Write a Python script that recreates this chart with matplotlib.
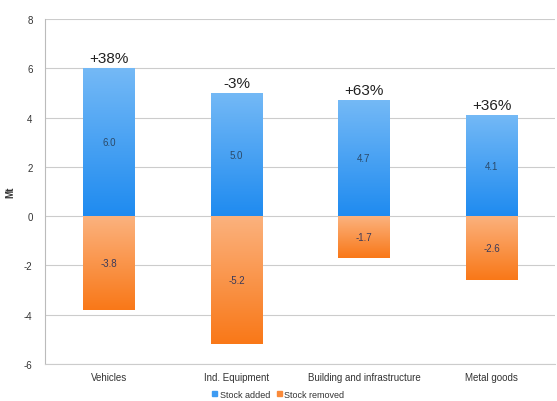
import matplotlib
matplotlib.use("Agg")
import matplotlib.pyplot as plt
import numpy as np

categories = ["Vehicles", "Ind. Equipment", "Building and infrastructure", "Metal goods"]
stock_added = [6.0, 5.0, 4.7, 4.1]
stock_removed = [-3.8, -5.2, -1.7, -2.6]
removed_labels = ["-3.8", "-5.2", "-1.7", "-2.6"]
pct_labels = ["+38%", "-3%", "+63%", "+36%"]
yticks = [-6, -4, -2, 0, 2, 4, 6, 8]

plt.rcParams['font.family'] = ['Liberation Sans', 'DejaVu Sans']

fig = plt.figure(figsize=(5.57, 4.02), dpi=100)
ax = fig.add_axes([0.081, 0.092, 0.916, 0.858])

x = np.arange(len(categories))
w = 0.4

def gradient_bars(bars, top_col, bot_col):
    for b in bars:
        x0, y0 = b.get_x(), b.get_y()
        bw, bh = b.get_width(), b.get_height()
        ylo, yhi = min(y0, y0 + bh), max(y0, y0 + bh)
        c1 = np.array(matplotlib.colors.to_rgb(top_col))
        c2 = np.array(matplotlib.colors.to_rgb(bot_col))
        t = np.linspace(0, 1, 100)[:, None]
        img = (c1 * (1 - t) + c2 * t)[:, None, :]
        im = ax.imshow(img, extent=[x0, x0 + bw, ylo, yhi], aspect='auto',
                       origin='upper', zorder=3)
        im.set_clip_path(b)
        b.set_alpha(0)

b1 = ax.bar(x, stock_added, w, color='#3d9bf2', label='Stock added', zorder=2)
b2 = ax.bar(x, stock_removed, w, color='#fa8a3a', label='Stock removed', zorder=2)
gradient_bars(b1, '#74b9f6', '#1f8bf0')
gradient_bars(b2, '#fbb27e', '#f97818')

for i in range(len(categories)):
    ax.text(x[i], stock_added[i] / 2, f"{stock_added[i]:.1f}", ha='center', va='center',
            fontsize=7, color='#2b4a6a', zorder=4)
    ax.text(x[i], stock_removed[i] / 2, removed_labels[i], ha='center', va='center',
            fontsize=7, color='#3a3a5a', zorder=4)
    ax.text(x[i], stock_added[i] + 0.12, pct_labels[i], ha='center', va='bottom',
            fontsize=11, color='#222222', zorder=4)

ax.set_xlim(-0.5, 3.5)
ax.set_ylim(-6, 8)
ax.set_yticks(yticks)
ax.set_yticklabels([str(v) for v in yticks])
ax.set_xticks(x)
ax.set_xticklabels(categories)
ax.tick_params(axis='both', labelsize=7, colors='#333333', length=0, pad=6)
ax.tick_params(axis='y', pad=9)
ax.grid(axis='y', color='#cccccc', linewidth=0.8, zorder=0)
ax.set_axisbelow(True)
for s in ['top', 'right']:
    ax.spines[s].set_visible(False)
ax.spines['left'].set_color('#bbbbbb')
ax.spines['bottom'].set_color('#cccccc')
ax.set_ylabel('Mt', fontsize=7, fontweight='bold', color='#333333')
ax.yaxis.set_label_coords(-0.058, 0.5)

leg = fig.legend(handles=[b1, b2], labels=['Stock added', 'Stock removed'], loc='lower center',
                 bbox_to_anchor=(0.5, -0.015), ncol=2, frameon=False, fontsize=6.5,
                 handlelength=0.5, handleheight=0.5, handletextpad=0.3, columnspacing=0.8)
for h, c in zip(leg.legend_handles, ['#3d9bf2', '#fa8a3a']):
    h.set_alpha(1)
    h.set_color(c)
for t in leg.get_texts():
    t.set_color('#333333')

fig.savefig('out.png', dpi=100)
